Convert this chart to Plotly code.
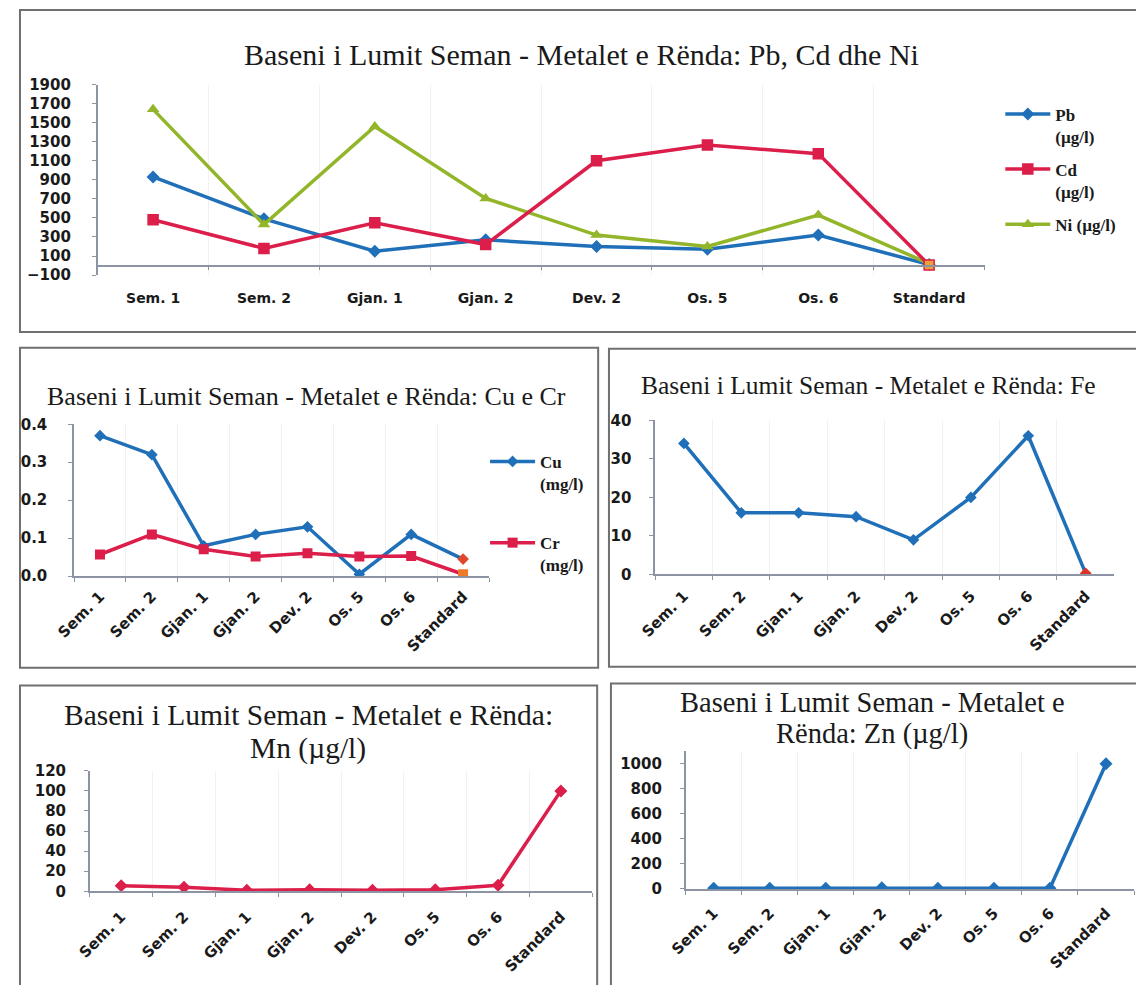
import plotly.graph_objects as go

W, H = 1136, 985
# The page body keeps the browser's default 8 px margin; layout positions
# below are given in window pixels and shifted by that amount.
OFF = 8

# Sampling stations (shared by every panel)
stations = ["Sem. 1", "Sem. 2", "Gjan. 1", "Gjan. 2", "Dev. 2", "Os. 5", "Os. 6", "Standard"]

# Heavy metals, µg/l
pb = [930, 490, 150, 270, 200, 170, 320, 10]
cd = [480, 180, 450, 220, 1100, 1265, 1175, 5]
ni = [1640, 430, 1460, 705, 320, 200, 530, 20]

# Copper and chromium, mg/l
cu = [0.37, 0.32, 0.08, 0.11, 0.13, 0.005, 0.11, 0.045]
cr = [0.057, 0.11, 0.071, 0.052, 0.06, 0.052, 0.053, 0.005]

# Iron
fe = [34, 16, 16, 15, 9, 20, 36, 0.3]

# Manganese and zinc, µg/l
mn = [5.6, 4, 1, 1.5, 1, 1.5, 6, 100]
zn = [5, 5, 6, 10, 6, 5, 6, 1000]

BLUE = "#1F70B8"
RED = "#DC1E4A"
GREEN = "#92B52A"
ORANGE = "#EE7A2A"
AMBER = "#E9A13B"
AXIS = "#8C93A3"
TXT = "#1A1A1A"
SERIF = "Liberation Serif"
SANS = "DejaVu Sans"


def px(x):
    return (x - OFF) / W


def py(y):
    return 1 - (y - OFF) / H


def last_colored(base, last):
    return [base] * (len(stations) - 1) + [last]


fig = go.Figure()

# --- Pb, Cd, Ni -----------------------------------------------------------
fig.add_trace(go.Scatter(
    x=stations, y=pb, name="Pb<br>(µg/l)", mode="lines+markers",
    line=dict(color=BLUE, width=3.5),
    marker=dict(symbol="diamond", size=10, color=BLUE),
    xaxis="x", yaxis="y", legend="legend", legendgroup="pb", legendrank=1))
fig.add_trace(go.Scatter(
    x=stations, y=ni, name="Ni (µg/l)", mode="lines+markers",
    line=dict(color=GREEN, width=3.5),
    marker=dict(symbol="triangle-up", size=11, color=GREEN),
    xaxis="x", yaxis="y", legend="legend", legendgroup="ni", legendrank=3))
fig.add_trace(go.Scatter(
    x=stations, y=cd, name="Cd<br>(µg/l)", mode="lines+markers",
    line=dict(color=RED, width=3.5),
    marker=dict(symbol="square", size=10, color=last_colored(RED, AMBER),
                line=dict(color=RED, width=1.5)),
    xaxis="x", yaxis="y", legend="legend", legendgroup="cd", legendrank=2))

# --- Cu, Cr ---------------------------------------------------------------
fig.add_trace(go.Scatter(
    x=stations, y=cu, name="Cu<br>(mg/l)", mode="lines+markers",
    line=dict(color=BLUE, width=3.5),
    marker=dict(symbol="diamond", size=9, color=last_colored(BLUE, "#E0482E")),
    xaxis="x2", yaxis="y2", legend="legend2", legendgroup="cu"))
fig.add_trace(go.Scatter(
    x=stations, y=cr, name="Cr<br>(mg/l)", mode="lines+markers",
    line=dict(color=RED, width=3.5),
    marker=dict(symbol="square", size=10, color=last_colored(RED, ORANGE)),
    xaxis="x2", yaxis="y2", legend="legend2", legendgroup="cr"))

# --- Fe -------------------------------------------------------------------
fig.add_trace(go.Scatter(
    x=stations, y=fe, name="Fe", mode="lines+markers", showlegend=False,
    line=dict(color=BLUE, width=3.5),
    marker=dict(symbol="diamond", size=9, color=last_colored(BLUE, "#E0302A")),
    xaxis="x3", yaxis="y3"))

# --- Mn -------------------------------------------------------------------
fig.add_trace(go.Scatter(
    x=stations, y=mn, name="Mn", mode="lines+markers", showlegend=False,
    line=dict(color=RED, width=3.5),
    marker=dict(symbol="diamond", size=10, color=RED),
    xaxis="x4", yaxis="y4"))

# --- Zn -------------------------------------------------------------------
fig.add_trace(go.Scatter(
    x=stations, y=zn, name="Zn", mode="lines+markers", showlegend=False,
    line=dict(color=BLUE, width=3.5),
    marker=dict(symbol="diamond", size=10, color=BLUE),
    xaxis="x5", yaxis="y5"))

tick_font = dict(family=SANS, size=15, color=TXT, weight="bold")


def cat_axis(domain, anchor, angle=0, size=14, standoff=0, **kw):
    d = dict(domain=domain, anchor=anchor, type="category",
             categoryorder="array", categoryarray=stations,
             range=[-0.5, len(stations) - 0.5],
             tickson="boundaries", ticks="outside", ticklen=4,
             tickcolor=AXIS, showline=True, linecolor=AXIS, linewidth=1.5,
             showgrid=True, gridcolor="#F1F1F1", gridwidth=1,
             tickangle=angle, tickfont=dict(tick_font, size=size),
             ticklabelstandoff=standoff, fixedrange=True)
    d.update(kw)
    return d


def val_axis(domain, anchor, rng, dtick, tick0=0, fmt=None, size=15, standoff=15):
    d = dict(domain=domain, anchor=anchor, range=rng, dtick=dtick, tick0=tick0,
             ticks="outside", ticklen=4, tickcolor=AXIS,
             showline=True, linecolor=AXIS, linewidth=1.5,
             showgrid=False, zeroline=False,
             tickfont=dict(tick_font, size=size),
             ticklabelstandoff=standoff, fixedrange=True)
    if fmt:
        d["tickformat"] = fmt
    return d


fig.update_layout(
    width=W, height=H, autosize=False,
    margin=dict(l=0, r=0, t=0, b=0),
    paper_bgcolor="white", plot_bgcolor="white",
    # top panel: category axis crosses the value axis at 0
    xaxis=cat_axis([px(88), px(990)], "free", 0, 14, 20,
                   position=py(269.3)),
    yaxis=val_axis([py(279), py(85)], "x", [-100, 1900], 200, -100, standoff=18),
    xaxis2=cat_axis([px(64), px(486)], "y2", -45, 15, 4),
    yaxis2=val_axis([py(585.7), py(431)], "x2", [0, 0.4], 0.1, 0, ".1f", standoff=18),
    xaxis3=cat_axis([px(655), px(1122)], "y3", -45, 15, 5),
    yaxis3=val_axis([py(584), py(427)], "x3", [0, 40], 10),
    xaxis4=cat_axis([px(80), px(591)], "y4", -45, 15, 9),
    yaxis4=val_axis([py(906.7), py(784)], "x4", [0, 120], 20),
    xaxis5=cat_axis([px(686), min(1.0, px(1142))], "y5", -45, 15, 8),
    yaxis5=val_axis([py(904.3), py(764)], "x5", [0, 1100], 200),
    legend=dict(x=px(1006), y=py(97), xanchor="left", yanchor="top",
                bgcolor="rgba(0,0,0,0)", traceorder="grouped",
                tracegroupgap=8, valign="top", itemwidth=45,
                font=dict(family=SERIF, size=17, color=TXT, weight="bold")),
    legend2=dict(x=px(482), y=py(451), xanchor="left", yanchor="top",
                 bgcolor="rgba(0,0,0,0)", traceorder="grouped",
                 tracegroupgap=34, valign="top", itemwidth=45,
                 font=dict(family=SERIF, size=17, color=TXT, weight="bold")),
    showlegend=True,
)

# Panel titles (one annotation per line)
titles = [
    ("Baseni i Lumit Seman - Metalet e Rënda: Pb, Cd dhe Ni", 580, 54, 30),
    ("Baseni i Lumit Seman - Metalet e Rënda: Cu e Cr", 300, 403, 26),
    ("Baseni i Lumit Seman - Metalet e Rënda: Fe", 872, 392, 25.5),
    ("Baseni i Lumit Seman - Metalet e Rënda:", 302, 727, 29.5),
    ("Mn (µg/l)", 302, 761, 29.5),
    ("Baseni i Lumit Seman - Metalet e", 876, 714, 28.5),
    ("Rënda: Zn (µg/l)", 876, 747, 28.5),
]
for text, cx, cy, size in titles:
    fig.add_annotation(text=text, x=px(cx), y=py(cy), xref="paper", yref="paper",
                       xanchor="center", yanchor="middle", showarrow=False,
                       font=dict(family=SERIF, size=size, color=TXT), align="center")

# Panel frames (the right-hand and lower panels run past the page edge)
frames = [
    (9, 9, 1180, 337),
    (9, 353, 597, 679),
    (608, 354, 1180, 678),
    (9, 697, 596, 1080),
    (610, 695, 1180, 1080),
]
for x0, y0, x1, y1 in frames:
    fig.add_shape(type="rect", xref="paper", yref="paper",
                  x0=px(x0), x1=px(x1), y0=py(y1), y1=py(y0),
                  line=dict(color="#707070", width=2), fillcolor="rgba(0,0,0,0)",
                  layer="below")

fig.write_html("out.html")
